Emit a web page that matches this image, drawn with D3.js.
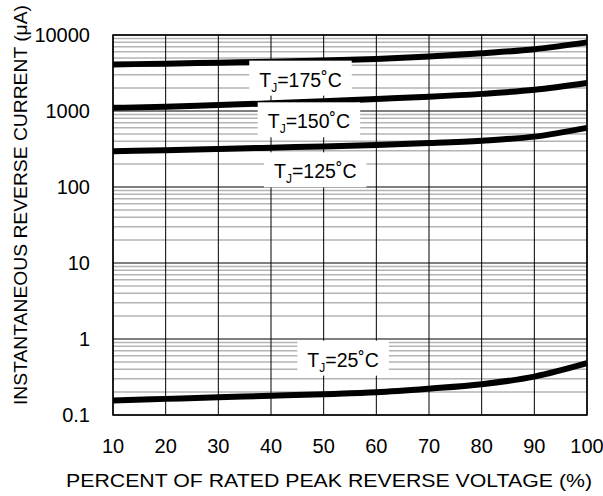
<!DOCTYPE html>
<html>
<head>
<meta charset="utf-8">
<script src="https://cdn.jsdelivr.net/npm/d3@7"></script>
<style>
  body { margin: 0; background: #fff; }
  text { font-family: "Liberation Sans", Arial, sans-serif; fill: #000; }
</style>
</head>
<body>
<div id="chart"></div>
<script>
// percent of rated peak reverse voltage
const percent = [10, 20, 30, 40, 50, 60, 70, 80, 90, 100];

// reverse current (uA) per junction temperature
const tj175 = [4100, 4200, 4320, 4450, 4620, 4830, 5200, 5750, 6500, 8000];
const tj150 = [1100, 1140, 1200, 1260, 1340, 1440, 1540, 1680, 1900, 2330];
const tj125 = [295, 305, 316, 329, 342, 357, 378, 407, 460, 600];
const tj25 = [0.155, 0.163, 0.171, 0.179, 0.188, 0.199, 0.222, 0.254, 0.32, 0.48];

const series = [tj175, tj150, tj125, tj25];
const seriesTemps = ["175", "150", "125", "25"];

const xTicks = [10, 20, 30, 40, 50, 60, 70, 80, 90, 100];
const yTicks = [0.1, 1, 10, 100, 1000, 10000];
const yTickLabels = ["0.1", "1", "10", "100", "1000", "10000"];

const W = 603, H = 496;
const margin = { top: 35, right: 16, bottom: 81, left: 113 };
const width = W - margin.left - margin.right,
      height = H - margin.top - margin.bottom;

const svg = d3.select("#chart").append("svg")
  .attr("width", W).attr("height", H);

const g = svg.append("g")
  .attr("transform", `translate(${margin.left},${margin.top})`);

const x = d3.scaleLinear().domain([10, 100]).range([0, width]);
const y = d3.scaleLog().domain([0.1, 10000]).range([height, 0]);

// minor horizontal grid
const minors = [];
for (let d = 0.1; d < 10000; d *= 10) {
  for (let k = 2; k <= 9; k++) minors.push(d * k);
}
g.selectAll(".minor").data(minors).enter().append("line")
  .attr("x1", 0).attr("x2", width)
  .attr("y1", d => y(d)).attr("y2", d => y(d))
  .attr("stroke", "#b4b4b4").attr("stroke-width", 1.5);

// decade lines
g.selectAll(".major").data(yTicks).enter().append("line")
  .attr("x1", 0).attr("x2", width)
  .attr("y1", d => y(d)).attr("y2", d => y(d))
  .attr("stroke", "#000").attr("stroke-width", 1);

// vertical grid
g.selectAll(".vgrid").data(xTicks).enter().append("line")
  .attr("x1", d => x(d)).attr("x2", d => x(d))
  .attr("y1", 0).attr("y2", height)
  .attr("stroke", "#000").attr("stroke-width", 1);

// curves
const line = d3.line()
  .x((d, i) => x(percent[i]))
  .y(d => y(d))
  .curve(d3.curveMonotoneX);

g.selectAll(".curve").data(series).enter().append("path")
  .attr("d", d => line(d))
  .attr("fill", "none")
  .attr("stroke", "#000")
  .attr("stroke-width", 6);

// labels with white boxes (anchor = text baseline centre, in data units)
const labelX = [45.6, 47.2, 48.4, 53.7];
const labelY = [2090, 592, 130, 0.433];

const labels = g.selectAll(".lbl").data(seriesTemps).enter().append("g")
  .attr("transform", (d, i) => `translate(${x(labelX[i])},${y(labelY[i])})`);

const lt = labels.append("text")
  .attr("text-anchor", "middle")
  .style("font-size", "19.5px");
lt.append("tspan").text("T");
lt.append("tspan").text("J").style("font-size", "12px").attr("dy", 5);
lt.append("tspan").text(d => "=" + d + "˚C").attr("dy", -5);

labels.each(function () {
  const t = d3.select(this).select("text");
  const bb = t.node().getBBox();
  d3.select(this).insert("rect", "text")
    .attr("x", bb.x - 10).attr("y", -26)
    .attr("width", bb.width + 20).attr("height", 35)
    .attr("fill", "#fff");
});

// frame
g.append("rect")
  .attr("width", width).attr("height", height)
  .attr("fill", "none").attr("stroke", "#000").attr("stroke-width", 1.5);

// tick labels
g.selectAll(".xt").data(xTicks).enter().append("text")
  .attr("x", d => x(d)).attr("y", height + 38)
  .attr("text-anchor", "middle")
  .style("font-size", "20px")
  .text(d => d);

g.selectAll(".yt").data(yTicks).enter().append("text")
  .attr("x", -23).attr("y", d => y(d))
  .attr("dy", "0.36em")
  .attr("text-anchor", "end")
  .style("font-size", "20px")
  .text((d, i) => yTickLabels[i]);

// axis titles
svg.append("text")
  .attr("x", 329).attr("y", 487)
  .attr("text-anchor", "middle")
  .attr("textLength", 526)
  .attr("lengthAdjust", "spacingAndGlyphs")
  .style("font-size", "18px")
  .text("PERCENT OF RATED PEAK REVERSE VOLTAGE (%)");

svg.append("text")
  .attr("transform", "translate(27,205) rotate(-90)")
  .attr("text-anchor", "middle")
  .attr("textLength", 400)
  .attr("lengthAdjust", "spacingAndGlyphs")
  .style("font-size", "18px")
  .text("INSTANTANEOUS REVERSE CURRENT (μA)");
</script>
</body>
</html>
